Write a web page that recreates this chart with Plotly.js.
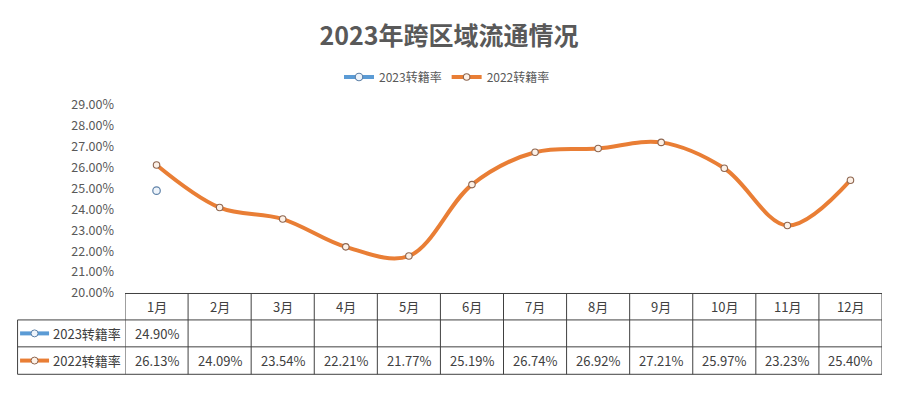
<!DOCTYPE html>
<html>
<head>
<meta charset="utf-8">
<script src="https://cdn.plot.ly/plotly-3.0.1.min.js"></script>
<style>html,body{margin:0;padding:0;background:#fff;}#chart{width:906px;height:398px;}</style>
</head>
<body>
<div id="chart"></div>
<script>
const months = ['1月','2月','3月','4月','5月','6月','7月','8月','9月','10月','11月','12月'];
const seriesNames = ['2023转籍率','2022转籍率'];
const rate2023 = [24.90, null, null, null, null, null, null, null, null, null, null, null];
const rate2022 = [26.13, 24.09, 23.54, 22.21, 21.77, 25.19, 26.74, 26.92, 27.21, 25.97, 23.23, 25.40];
const yTicks = [20, 21, 22, 23, 24, 25, 26, 27, 28, 29];

const FONT = '"Noto Sans CJK SC", "Noto Sans", sans-serif';
const TXT = '#404040';
const BLUE = '#5B9BD5';
const ORANGE = '#E97E35';

const W = 906, H = 398;
const mL = 125, mR = 23.5, mT = 105, mB = 104.5;
const plotH = H - mT - mB;
const plotW = W - mL - mR;
const py = p => (H - mB - p) / plotH;
const px = p => (p - mL) / plotW;

const traces = [
  {
    x: months, y: rate2023, name: seriesNames[0], type: 'scatter', mode: 'lines+markers',
    line: {color: BLUE, width: 4, shape: 'spline', smoothing: 1},
    marker: {size: 7.5, color: '#eef4fb', line: {color: '#5f82a8', width: 1.2}},
    hoverinfo: 'skip'
  },
  {
    x: months, y: rate2022, name: seriesNames[1], type: 'scatter', mode: 'lines+markers',
    line: {color: ORANGE, width: 4, shape: 'spline', smoothing: 1},
    marker: {size: 6.5, color: '#fdf1e7', line: {color: '#8e6650', width: 1.1}},
    hoverinfo: 'skip'
  }
];

const shapes = [];
const annotations = [];
const lineStyle = {color: '#404040', width: 1};
const yHead = py(294), yR1 = py(320.5), yR2 = py(347.5), yR3 = py(375);
const xLeft = px(17.5);

shapes.push({type: 'line', xref: 'x', yref: 'paper', x0: -0.5, x1: months.length - 0.5, y0: yHead, y1: yHead, line: lineStyle});
[yR1, yR2, yR3].forEach(yy => {
  shapes.push({type: 'line', xref: 'paper', yref: 'paper', x0: xLeft, x1: 1, y0: yy, y1: yy, line: lineStyle});
});
for (let i = 0; i <= months.length; i++) {
  shapes.push({type: 'line', xref: 'x', yref: 'paper', x0: i - 0.5, x1: i - 0.5, y0: yHead, y1: yR3, line: lineStyle});
}
shapes.push({type: 'line', xref: 'paper', yref: 'paper', x0: xLeft, x1: xLeft, y0: yR1, y1: yR3, line: lineStyle});

const rowY = [(yHead + yR1) / 2, (yR1 + yR2) / 2, (yR2 + yR3) / 2];
months.forEach((m, i) => {
  annotations.push({xref: 'x', yref: 'paper', x: m, y: rowY[0], text: m, showarrow: false,
    font: {family: FONT, size: 13, color: TXT}, xanchor: 'center', yanchor: 'middle'});
  [rate2023, rate2022].forEach((arr, k) => {
    if (arr[i] !== null) {
      annotations.push({xref: 'x', yref: 'paper', x: m, y: rowY[k + 1], text: arr[i].toFixed(2) + '%', showarrow: false,
        font: {family: FONT, size: 13, color: TXT}, xanchor: 'center', yanchor: 'middle'});
    }
  });
});
const keyColors = [[BLUE, '#eef4fb', '#5f82a8'], [ORANGE, '#fdf1e7', '#8e6650']];
seriesNames.forEach((nm, k) => {
  const yy = rowY[k + 1];
  const pyPix = H - mB - yy * plotH;
  shapes.push({type: 'line', xref: 'paper', yref: 'paper', x0: px(20), x1: px(49), y0: yy, y1: yy,
    line: {color: keyColors[k][0], width: 4}});
  shapes.push({type: 'circle', xref: 'paper', yref: 'paper', x0: px(31), x1: px(38),
    y0: py(pyPix + 3.5), y1: py(pyPix - 3.5), fillcolor: keyColors[k][1], line: {color: keyColors[k][2], width: 1}});
  annotations.push({xref: 'paper', yref: 'paper', x: px(51), y: yy, text: nm, showarrow: false,
    font: {family: FONT, size: 13, color: TXT}, xanchor: 'left', yanchor: 'middle'});
});

const layout = {
  width: W, height: H,
  margin: {l: mL, r: mR, t: mT, b: mB},
  paper_bgcolor: '#fff', plot_bgcolor: '#fff',
  font: {family: FONT, color: '#595959'},
  title: {text: '<b>2023年跨区域流通情况</b>', x: 449 / W, xref: 'container', xanchor: 'center',
    y: 1 - 36 / H, yref: 'container', yanchor: 'middle',
    font: {family: FONT, size: 25, color: '#595959'}},
  showlegend: true,
  legend: {orientation: 'h', x: 447 / W, xref: 'container', xanchor: 'center', y: 1 - 77 / H, yref: 'container', yanchor: 'middle',
    font: {family: FONT, size: 12, color: '#595959'}, itemwidth: 30, traceorder: 'normal'},
  xaxis: {type: 'category', range: [-0.5, months.length - 0.5], showticklabels: false, showgrid: false,
    zeroline: false, showline: false, ticks: '', fixedrange: true},
  yaxis: {range: [20, 29], tickvals: yTicks, ticktext: yTicks.map(v => v.toFixed(2) + '%'),
    showgrid: false, zeroline: false, showline: false, ticks: '', ticklabelstandoff: 10,
    tickfont: {family: FONT, size: 12.5, color: '#595959'}, fixedrange: true},
  shapes: shapes,
  annotations: annotations
};

Plotly.newPlot('chart', traces, layout, {displayModeBar: false, staticPlot: true});
</script>
</body>
</html>
